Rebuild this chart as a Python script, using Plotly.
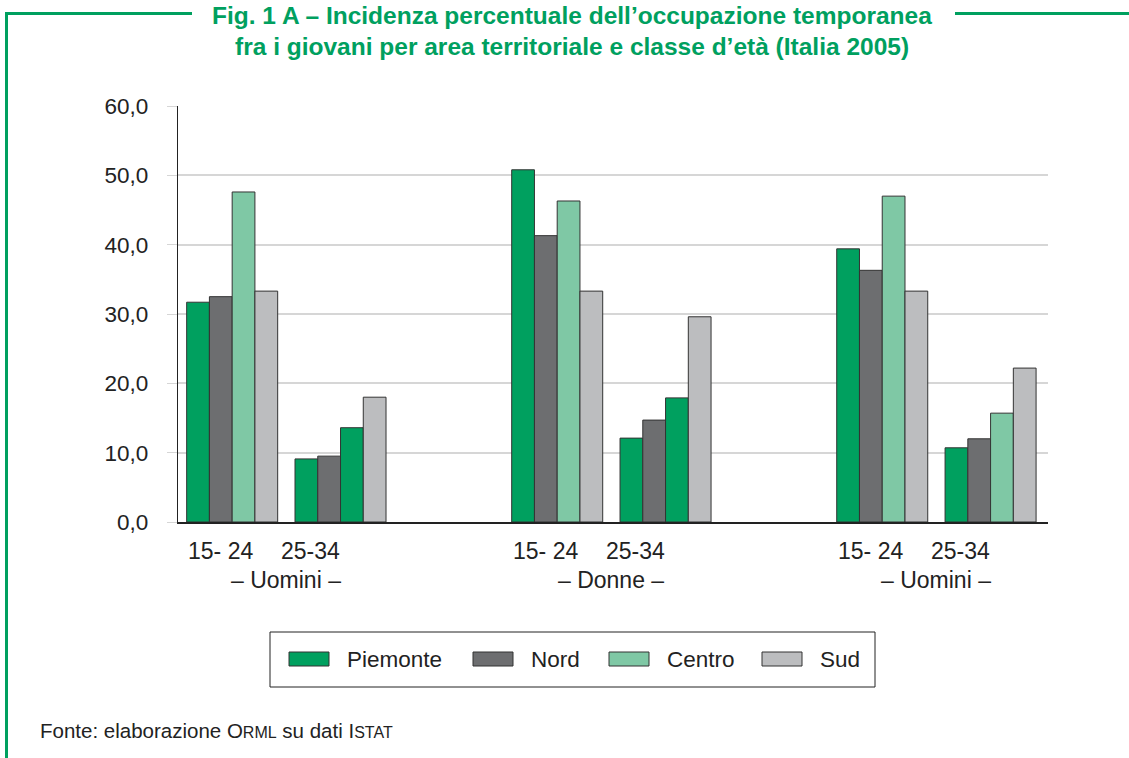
import plotly.graph_objects as go

# categories: two age classes per group, with empty spacer slots between groups
slots = ["U 15-24", "U 25-34", "gap1", "D 15-24", "D 25-34", "gap2", "T 15-24", "T 25-34"]
clusters = ["U 15-24", "U 25-34", "D 15-24", "D 25-34", "T 15-24", "T 25-34"]
age_labels = ["15- 24", "25-34", "15- 24", "25-34", "15- 24", "25-34"]
group_labels = ["– Uomini –", "– Donne –", "– Uomini –"]

piemonte = [31.7, 9.1, 50.8, 12.1, 39.4, 10.7]
nord = [32.5, 9.5, 41.3, 14.7, 36.3, 12.0]
centro = [47.6, 13.6, 46.3, 17.9, 47.0, 15.7]
sud = [33.3, 18.0, 33.3, 29.6, 33.3, 22.2]

GREEN = "#00a05f"
DARK = "#6d6e70"
LIGHTGREEN = "#7fc8a5"
GREY = "#bcbdbf"

# in the original the Centro bars of two clusters are printed in the Piemonte green
centro_colors = [LIGHTGREEN, GREEN, LIGHTGREEN, GREEN, LIGHTGREEN, LIGHTGREEN]

W, H = 1129, 758
L, R, T, B = 178, 1048, 106, 522


def px_x(x):
    return (x - L) / (R - L)


def px_y(y):
    return (B - y) / (B - T)


fig = go.Figure()
series = [
    ("Piemonte", piemonte, GREEN, GREEN),
    ("Nord", nord, DARK, DARK),
    ("Centro", centro, centro_colors, LIGHTGREEN),
    ("Sud", sud, GREY, GREY),
]
for name, vals, color, _ in series:
    fig.add_trace(
        go.Bar(
            x=clusters,
            y=vals,
            name=name,
            showlegend=False,
            marker=dict(color=color, line=dict(color="#333333", width=1)),
        )
    )

annotations = []
for cat, lab in zip(clusters, age_labels):
    shift = -12 if lab.startswith("15") else -30
    annotations.append(
        dict(
            x=cat, y=px_y(551), xref="x", yref="paper", text=lab,
            showarrow=False, xshift=shift, yanchor="middle",
            font=dict(size=23, color="#222222"),
        )
    )
for i, lab in enumerate(group_labels):
    annotations.append(
        dict(
            x=3 * i + 0.5, y=px_y(580), xref="x", yref="paper", text=lab,
            showarrow=False, yanchor="middle",
            font=dict(size=23, color="#222222"),
        )
    )

title_lines = [
    ("Fig. 1 A – Incidenza percentuale dell’occupazione temporanea", 15),
    ("fra i giovani per area territoriale e classe d’età (Italia 2005)", 47),
]
for line, yy in title_lines:
    annotations.append(
        dict(
            x=px_x(572), y=px_y(yy), xref="paper", yref="paper",
            text="<b>" + line + "</b>", showarrow=False, yanchor="middle",
            font=dict(size=24.5, color=GREEN),
        )
    )

annotations.append(
    dict(
        x=px_x(38), y=px_y(730), xref="paper", yref="paper",
        text='Fonte: elaborazione O<span style="font-size:16px">RML</span> su dati I<span style="font-size:16px">STAT</span>',
        showarrow=False, xanchor="left", yanchor="middle",
        font=dict(size=20.5, color="#222222"),
    )
)

frame = [
    dict(x0=6.5, y0=12, x1=6.5, y1=770),
    dict(x0=5, y0=13.5, x1=192, y1=13.5),
    dict(x0=955, y0=13.5, x1=1140, y1=13.5),
]
shapes = [
    dict(
        type="line", xref="paper", yref="paper",
        x0=px_x(f["x0"]), x1=px_x(f["x1"]), y0=px_y(f["y0"]), y1=px_y(f["y1"]),
        line=dict(color=GREEN, width=3),
    )
    for f in frame
]

# legend drawn by hand to get the wide flat swatches of the original
shapes.append(
    dict(
        type="rect", xref="paper", yref="paper",
        x0=px_x(270), x1=px_x(875), y0=px_y(632), y1=px_y(687),
        line=dict(color="#222222", width=1), fillcolor="white",
    )
)
legend_swatch_x = [289, 473, 609, 762]
for (name, _, _, swatch), sx in zip(series, legend_swatch_x):
    shapes.append(
        dict(
            type="rect", xref="paper", yref="paper",
            x0=px_x(sx), x1=px_x(sx + 40), y0=px_y(652), y1=px_y(666),
            line=dict(color="#333333", width=1), fillcolor=swatch,
        )
    )
    annotations.append(
        dict(
            x=px_x(sx + 56), y=px_y(659), xref="paper", yref="paper",
            text=name, showarrow=False, xanchor="left", yanchor="middle",
            font=dict(size=22.5, color="#222222"),
        )
    )

fig.update_layout(
    width=W,
    height=H,
    margin=dict(l=L, r=W - R, t=T, b=H - B, pad=0),
    paper_bgcolor="white",
    plot_bgcolor="white",
    font=dict(family="Liberation Sans, Arial, sans-serif", color="#222222"),
    barmode="group",
    bargap=0.16,
    bargroupgap=0,
    separators=",.",
    annotations=annotations,
    shapes=shapes,
    showlegend=False,
)
fig.update_xaxes(
    type="category",
    categoryorder="array",
    categoryarray=slots,
    range=[-0.5, 7.53],
    showticklabels=False,
    ticks="",
    showline=True,
    linecolor="#222222",
    linewidth=1.5,
    showgrid=False,
)
fig.update_yaxes(
    range=[0, 60],
    dtick=10,
    tickformat=".1f",
    showgrid=True,
    gridcolor="#d6d6d6",
    gridwidth=1.5,
    showline=True,
    linecolor="#222222",
    linewidth=1.2,
    ticks="outside",
    ticklen=10,
    tickcolor="#d6d6d6",
    ticklabelstandoff=14,
    tickfont=dict(size=22.5, color="#222222"),
    zeroline=False,
)

# drop the browser's default body margin so the figure fills the window exactly
fig.write_html(
    "out.html",
    config={"displayModeBar": False},
    post_script="document.body.style.margin='0';",
)
